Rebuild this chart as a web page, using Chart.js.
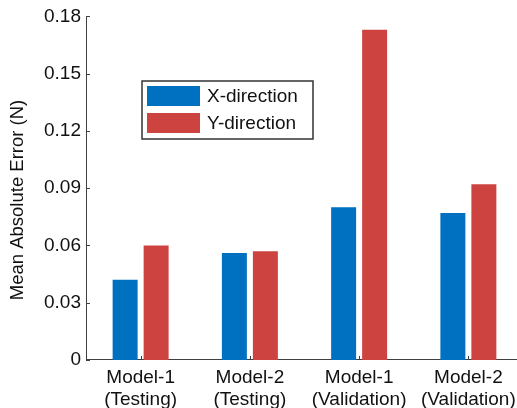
<!DOCTYPE html>
<html>
<head>
<meta charset="utf-8">
<script src="https://cdn.jsdelivr.net/npm/chart.js@4/dist/chart.umd.min.js"></script>
<style>
  html, body { margin: 0; padding: 0; background: #fff; overflow: hidden; }
  #wrap { position: absolute; left: 0; top: 0; width: 523px; height: 418px; }
</style>
</head>
<body>
<div id="wrap"><canvas id="c" width="523" height="418"></canvas></div>
<script>
// Mean absolute error per model / data split
const categories = [
  ['Model-1', '(Testing)'],
  ['Model-2', '(Testing)'],
  ['Model-1', '(Validation)'],
  ['Model-2', '(Validation)']
];
const seriesNames = ['X-direction', 'Y-direction'];
const xDirection = [0.042, 0.056, 0.080, 0.077];
const yDirection = [0.060, 0.057, 0.173, 0.092];
const yTicks = [0, 0.03, 0.06, 0.09, 0.12, 0.15, 0.18];
const yTitle = 'Mean Absolute Error (N)';

const FONT = 'Liberation Sans, Arial, Helvetica, sans-serif';
const AXIS_COLOR = '#404040';
const TEXT_COLOR = '#111';
const colors = ['#0071C1', '#CD4340'];

const toPoints = arr => arr.map((v, i) => ({ x: i + 1, y: v }));

// Inward tick marks, rotated y title and boxed legend
const decorations = {
  id: 'decorations',
  afterDatasetsDraw(chart) {
    const { ctx, chartArea, scales } = chart;
    const xs = scales.x, ys = scales.y;
    ctx.save();
    ctx.strokeStyle = AXIS_COLOR;
    ctx.lineWidth = 1;
    ctx.beginPath();
    yTicks.forEach(v => {
      const py = Math.round(ys.getPixelForValue(v)) + 0.5;
      ctx.moveTo(chartArea.left, py);
      ctx.lineTo(chartArea.left + 4, py);
    });
    categories.forEach((_, i) => {
      const px = Math.round(xs.getPixelForValue(i + 1)) + 0.5;
      ctx.moveTo(px, chartArea.bottom);
      ctx.lineTo(px, chartArea.bottom - 4);
    });
    ctx.stroke();

    // y axis title
    ctx.fillStyle = TEXT_COLOR;
    ctx.font = '18.5px ' + FONT;
    ctx.textAlign = 'center';
    ctx.textBaseline = 'middle';
    ctx.translate(18, 200);
    ctx.rotate(-Math.PI / 2);
    ctx.fillText(yTitle, 0, 0);
    ctx.restore();

    // legend box
    ctx.save();
    const bx = 142, by = 81, bw = 171, bh = 58;
    ctx.fillStyle = '#fff';
    ctx.fillRect(bx, by, bw, bh);
    ctx.strokeStyle = '#333';
    ctx.lineWidth = 1.5;
    ctx.strokeRect(bx, by, bw, bh);
    ctx.font = '19px ' + FONT;
    ctx.textAlign = 'left';
    ctx.textBaseline = 'middle';
    chart.data.datasets.forEach((ds, i) => {
      const y0 = 86 + i * 27;
      ctx.fillStyle = ds.backgroundColor;
      ctx.fillRect(147, y0, 53, 20);
      ctx.fillStyle = TEXT_COLOR;
      ctx.fillText(ds.label, 207, y0 + 10.5);
    });
    ctx.restore();
  }
};

new Chart(document.getElementById('c'), {
  type: 'bar',
  data: {
    datasets: [
      { label: seriesNames[0], data: toPoints(xDirection), backgroundColor: colors[0] },
      { label: seriesNames[1], data: toPoints(yDirection), backgroundColor: colors[1] }
    ]
  },
  options: {
    responsive: false,
    animation: false,
    devicePixelRatio: 1,
    categoryPercentage: 0.5675,
    barPercentage: 0.806,
    layout: { padding: { top: 16, right: 0, bottom: 0, left: 0 } },
    plugins: { legend: { display: false }, tooltip: { enabled: false } },
    scales: {
      x: {
        type: 'linear',
        offset: false,
        min: 0.5,
        max: 4.5,
        afterBuildTicks: s => { s.ticks = categories.map((_, i) => ({ value: i + 1 })); },
        grid: { display: false, drawTicks: false },
        border: { display: true, color: AXIS_COLOR, width: 1 },
        ticks: {
          autoSkip: false,
          maxRotation: 0,
          padding: 7,
          color: TEXT_COLOR,
          font: { family: FONT, size: 19, lineHeight: 1.16 },
          callback: v => categories[v - 1] || ''
        }
      },
      y: {
        min: 0,
        max: 0.18,
        afterBuildTicks: s => { s.ticks = yTicks.map(v => ({ value: v })); },
        afterFit: s => { s.width = 86; },
        grid: { display: false, drawTicks: false },
        border: { display: true, color: AXIS_COLOR, width: 1 },
        ticks: {
          padding: 5,
          color: TEXT_COLOR,
          font: { family: FONT, size: 19 },
          callback: v => (v === 0 ? '0' : v.toFixed(2))
        }
      }
    }
  },
  plugins: [decorations]
});
</script>
</body>
</html>
